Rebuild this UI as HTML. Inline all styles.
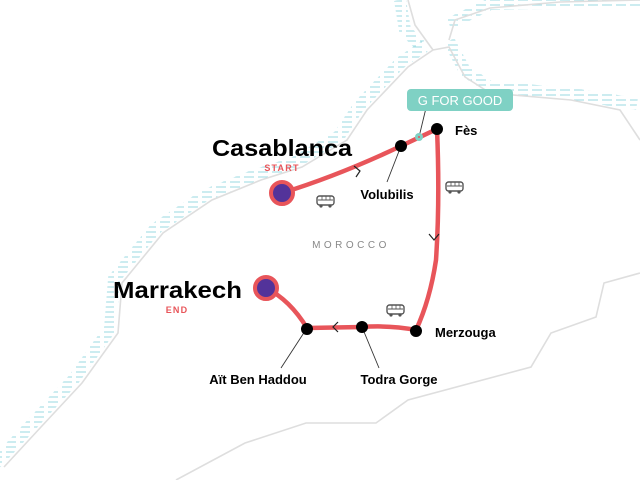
<!DOCTYPE html>
<html><head><meta charset="utf-8"><style>
html,body{margin:0;padding:0;background:#fff;}
svg{display:block;}
text{font-family:"Liberation Sans",sans-serif;}
</style></head><body>
<svg width="640" height="480" viewBox="0 0 640 480" xmlns="http://www.w3.org/2000/svg">
<defs>
<pattern id="h" width="14" height="5" patternUnits="userSpaceOnUse">
<line x1="0" y1="1" x2="10" y2="1" stroke="#a9dfe6" stroke-width="1.2"/>
</pattern>
<g id="bus">
<rect x="0" y="0" width="17" height="9" rx="2.5" fill="#fff" stroke="#555" stroke-width="1.4"/>
<line x1="1" y1="4" x2="16" y2="4" stroke="#555" stroke-width="1"/>
<line x1="5" y1="0" x2="5" y2="4" stroke="#555" stroke-width="0.8"/>
<line x1="9" y1="0" x2="9" y2="4" stroke="#555" stroke-width="0.8"/>
<line x1="13" y1="0" x2="13" y2="4" stroke="#555" stroke-width="0.8"/>
<circle cx="4" cy="10" r="1.6" fill="#555"/>
<circle cx="13" cy="10" r="1.6" fill="#555"/>
</g>
</defs>
<g fill="none" stroke="url(#h)" stroke-width="12">
<path transform="translate(-8,-4)" d="M4,467 L41,427 L82,383 L118,333 L122,283 L163,233 L212,200 L261,180 L302,167 L347,140 L367,110 L408,67 L433,50"/>
<path transform="translate(0,-6)" d="M449,47 L465,77 L490,93 L571,100 L637,110"/>
<path d="M400,0 L405,30 L420,45" />
<path transform="translate(0,-6)" d="M449,30 L490,10 L640,8"/>
</g>
<g fill="none" stroke="#dedede" stroke-width="1.6">
<path d="M4,467 L41,427 L82,383 L118,333 L122,283 L163,233 L212,200 L261,180 L302,167 L347,140 L367,110 L408,67 L433,50 L449,47 L465,77 L490,93 L571,100 L620,110 L640,140"/>
<path d="M408,0 L415,25 L433,50"/>
<path d="M449,40 L455,20 L490,8 L560,2 L640,0"/>
<path d="M640,273 L604,283 L596,317 L551,333 L531,367 L408,400 L376,423 L306,423 L245,443 L176,480"/>
</g>
<g fill="none" stroke="#e8555a" stroke-width="4.5" stroke-linecap="round" stroke-linejoin="round">
<path d="M282,193 Q340,175 401,146 L437,129 Q440,200 436,260 Q430,300 416,330 Q390,325 362,327 L307,328 Q290,300 266,288"/>
</g>
<g fill="none" stroke="#222" stroke-width="1.2">
<path d="M354,166 L360,171 L356,177"/>
<path d="M429,234 L434,240 L439,234"/>
<path d="M338,322 L333,327 L338,332"/>
</g>
<g stroke="#333" stroke-width="0.9">
<line x1="401" y1="146" x2="387" y2="182"/>
<line x1="307" y1="328" x2="281" y2="368"/>
<line x1="362" y1="327" x2="379" y2="368"/>
<line x1="419" y1="137" x2="426" y2="108"/>
</g>
<rect x="407" y="89" width="106" height="22" rx="4" fill="#7fd1c4"/>
<text x="460" y="105" font-size="13" fill="#fff" text-anchor="middle">G FOR GOOD</text>
<circle cx="419" cy="137" r="4" fill="#7fd1c4"/>
<circle cx="419" cy="137" r="1" fill="#e8555a"/>
<g fill="#000">
<circle cx="401" cy="146" r="6"/>
<circle cx="437" cy="129" r="6"/>
<circle cx="416" cy="331" r="6"/>
<circle cx="362" cy="327" r="6"/>
<circle cx="307" cy="329" r="6"/>
</g>
<circle cx="282" cy="193" r="11" fill="#53339a" stroke="#e8555a" stroke-width="4"/>
<circle cx="266" cy="288" r="11" fill="#53339a" stroke="#e8555a" stroke-width="4"/>
<use href="#bus" x="317" y="196"/>
<use href="#bus" x="446" y="182"/>
<use href="#bus" x="387" y="305"/>
<text x="212" y="156" font-size="23" font-weight="bold" fill="#000" textLength="140" lengthAdjust="spacingAndGlyphs">Casablanca</text>
<text x="282" y="171" font-size="9" font-weight="bold" fill="#e8555a" text-anchor="middle" letter-spacing="1.2">START</text>
<text x="113" y="298" font-size="23" font-weight="bold" fill="#000" textLength="129" lengthAdjust="spacingAndGlyphs">Marrakech</text>
<text x="177" y="313" font-size="9" font-weight="bold" fill="#e8555a" text-anchor="middle" letter-spacing="1.2">END</text>
<text x="455" y="135" font-size="13" font-weight="bold" fill="#000">Fès</text>
<text x="387" y="199" font-size="13" font-weight="bold" fill="#000" text-anchor="middle">Volubilis</text>
<text x="435" y="337" font-size="13" font-weight="bold" fill="#000">Merzouga</text>
<text x="399" y="384" font-size="13" font-weight="bold" fill="#000" text-anchor="middle">Todra Gorge</text>
<text x="258" y="384" font-size="13" font-weight="bold" fill="#000" text-anchor="middle">Aït Ben Haddou</text>
<text x="351" y="248" font-size="10" fill="#888" text-anchor="middle" letter-spacing="3.5">MOROCCO</text>
</svg>
</body></html>
